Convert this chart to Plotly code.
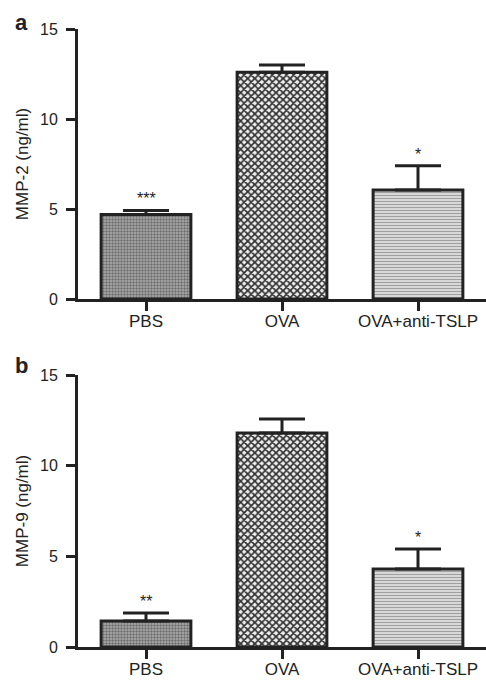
import plotly.graph_objects as go
from plotly.subplots import make_subplots

categories = ["PBS", "OVA", "OVA+anti-TSLP"]
mmp2_mean = [4.7, 12.6, 6.05]
mmp2_err = [0.22, 0.4, 1.35]
mmp2_stars = ["***", "", "*"]
mmp9_mean = [1.43, 11.8, 4.3]
mmp9_err = [0.44, 0.77, 1.1]
mmp9_stars = ["**", "", "*"]
y_ticks = [0, 5, 10, 15]

W, H = 486, 681
ML, MR, MT, MB = 78, 0, 29, 34
PH = H - MT - MB
PW = W - ML - MR

def py(ypix):
    return 1 - (ypix - MT) / PH

def px(xpix):
    return (xpix - ML) / PW

FONT = "Liberation Sans, Arial, sans-serif"
INK = "#222222"

patterns = [
    dict(shape=".", size=3, solidity=0.5, fgcolor="#6e6e6e", bgcolor="#b0b0b0", fillmode="replace"),
    dict(shape="x", size=5, solidity=0.55, fgcolor="#2e2e2e", bgcolor="#eeeeee", fillmode="replace"),
    dict(shape="-", size=3, solidity=0.45, fgcolor="#a0a0a0", bgcolor="#e4e4e4", fillmode="replace"),
]

fig = make_subplots(rows=2, cols=1)

for row, (means, errs, stars) in enumerate([(mmp2_mean, mmp2_err, mmp2_stars), (mmp9_mean, mmp9_err, mmp9_stars)], start=1):
    for i, cat in enumerate(categories):
        fig.add_trace(go.Bar(
            x=[cat], y=[means[i]], width=0.66,
            marker=dict(color="#ffffff", pattern=patterns[i], line=dict(color=INK, width=3)),
            error_y=dict(type="data", array=[errs[i]], arrayminus=[0], symmetric=False, visible=True,
                         color=INK, thickness=3, width=23),
            showlegend=False,
        ), row=row, col=1)
        if stars[i]:
            fig.add_annotation(x=cat, y=means[i] + errs[i], text=stars[i], showarrow=False,
                               yanchor="bottom", yshift=1, font=dict(size=16, color=INK, family=FONT),
                               xref="x" if row == 1 else "x2", yref="y" if row == 1 else "y2")

axis_common = dict(showline=True, linecolor=INK, linewidth=3, ticks="outside", ticklen=9,
                   tickwidth=3, tickcolor=INK, showgrid=False, zeroline=False, automargin=False)

fig.update_xaxes(**axis_common, range=[-0.5, 2.5], categoryorder="array", categoryarray=categories,
                 tickfont=dict(size=17, color=INK, family=FONT), ticklabelstandoff=-4)
fig.update_yaxes(**axis_common, range=[0, 15], tickvals=y_ticks,
                 tickfont=dict(size=16, color=INK, family=FONT), ticklabelstandoff=5)

fig.update_layout(
    width=W, height=H, margin=dict(l=ML, r=MR, t=MT, b=MB, autoexpand=False),
    plot_bgcolor="white", paper_bgcolor="white",
    font=dict(family=FONT, color=INK),
    xaxis=dict(domain=[0, 1], anchor="y"),
    yaxis=dict(domain=[py(299), 1.0], title=dict(text="MMP-2 (ng/ml)", font=dict(size=17), standoff=8)),
    xaxis2=dict(domain=[0, 1], anchor="y2"),
    yaxis2=dict(domain=[0, py(375)], title=dict(text="MMP-9 (ng/ml)", font=dict(size=17), standoff=8)),
)

fig.add_annotation(text="<b>a</b>", x=px(21), y=py(22), xref="paper", yref="paper",
                   xanchor="center", yanchor="middle",
                   showarrow=False, font=dict(size=22, color=INK, family=FONT))
fig.add_annotation(text="<b>b</b>", x=px(21), y=py(365), xref="paper", yref="paper",
                   xanchor="center", yanchor="middle",
                   showarrow=False, font=dict(size=22, color=INK, family=FONT))

fig.write_html("out.html", config={"displayModeBar": False},
               post_script="document.body.style.margin='0';document.body.style.overflow='hidden';")
